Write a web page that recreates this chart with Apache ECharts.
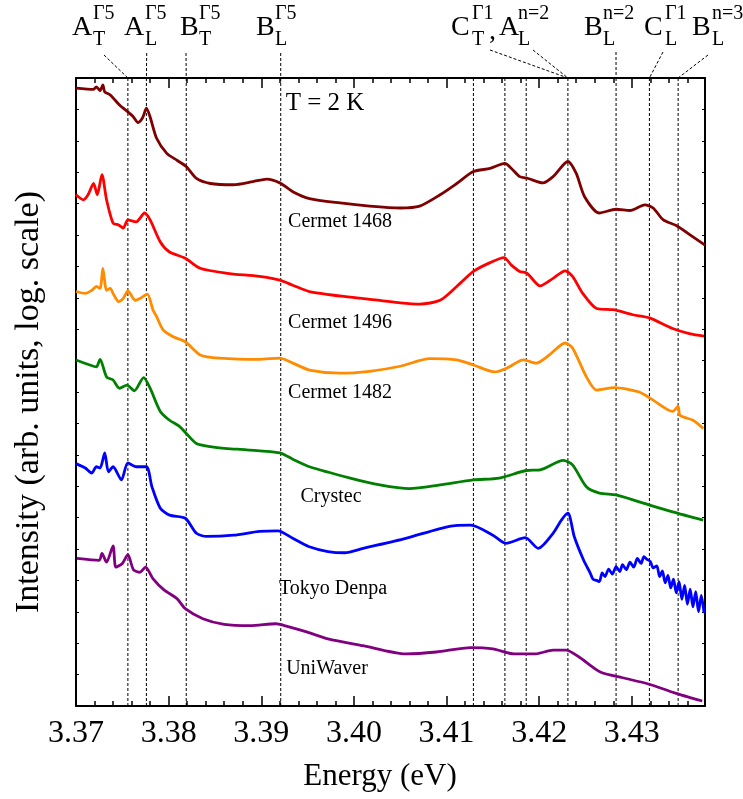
<!DOCTYPE html>
<html>
<head>
<meta charset="utf-8">
<script src="https://cdn.jsdelivr.net/npm/echarts@6/dist/echarts.min.js"></script>
<style>
  html, body { margin: 0; padding: 0; background: #fff; }
  #chart { width: 743px; height: 799px; }
</style>
</head>
<body>
<div id="chart"></div>
<script>
// energies (eV) / intensity (log, offset, arb. units)
var cermet1468 = [
  [3.3700,9.84],[3.3719,9.82],[3.3722,9.86],[3.3726,9.80],[3.3729,9.89],[3.3731,9.78],
  [3.3737,9.73],[3.3747,9.57],[3.3756,9.46],[3.3762,9.38],[3.3767,9.29],[3.3772,9.37],
  [3.3776,9.52],[3.3780,9.38],[3.3787,9.04],[3.3798,8.80],[3.3809,8.69],[3.3819,8.59],
  [3.3830,8.40],[3.3845,8.32],[3.3870,8.30],[3.3891,8.35],[3.3906,8.39],[3.3920,8.33],
  [3.3934,8.19],[3.3952,8.08],[3.3985,8.01],[3.4017,7.96],[3.4050,7.93],[3.4071,7.96],
  [3.4093,8.14],[3.4111,8.32],[3.4129,8.51],[3.4147,8.56],[3.4163,8.64],[3.4170,8.56],
  [3.4179,8.43],[3.4188,8.40],[3.4204,8.33],[3.4215,8.43],[3.4231,8.67],[3.4240,8.48],
  [3.4249,8.11],[3.4265,7.85],[3.4283,7.91],[3.4298,7.89],[3.4314,7.98],[3.4323,7.93],
  [3.4334,7.74],[3.4348,7.65],[3.4366,7.47],[3.4379,7.34]
];
var cermet1496 = [
  [3.3700,8.14],[3.3708,8.06],[3.3713,8.14],[3.3719,8.32],[3.3723,8.14],[3.3728,8.46],
  [3.3733,8.06],[3.3740,7.69],[3.3746,7.66],[3.3751,7.61],[3.3756,7.74],[3.3765,7.71],
  [3.3774,7.85],[3.3780,7.74],[3.3791,7.39],[3.3801,7.23],[3.3818,7.13],[3.3834,6.97],
  [3.3863,6.89],[3.3898,6.84],[3.3920,6.78],[3.3934,6.70],[3.3952,6.60],[3.3996,6.51],
  [3.4028,6.46],[3.4050,6.42],[3.4071,6.40],[3.4093,6.46],[3.4111,6.68],[3.4129,6.92],
  [3.4147,7.06],[3.4162,7.14],[3.4170,7.02],[3.4179,6.92],[3.4187,6.89],[3.4201,6.69],
  [3.4215,6.81],[3.4228,6.93],[3.4236,6.84],[3.4247,6.57],[3.4262,6.33],[3.4280,6.31],
  [3.4301,6.23],[3.4319,6.18],[3.4344,6.01],[3.4362,5.93],[3.4378,5.89]
];
var cermet1482 = [
  [3.3700,6.60],[3.3710,6.57],[3.3717,6.62],[3.3722,6.68],[3.3726,6.65],[3.3729,6.97],
  [3.3733,6.62],[3.3737,6.65],[3.3740,6.57],[3.3746,6.44],[3.3751,6.49],[3.3756,6.61],
  [3.3764,6.46],[3.3769,6.49],[3.3777,6.56],[3.3783,6.31],[3.3787,6.20],[3.3794,5.99],
  [3.3805,5.88],[3.3818,5.80],[3.3834,5.59],[3.3855,5.54],[3.3898,5.52],[3.3920,5.54],
  [3.3934,5.46],[3.3952,5.35],[3.3985,5.30],[3.4017,5.33],[3.4050,5.41],[3.4082,5.53],
  [3.4111,5.51],[3.4129,5.43],[3.4152,5.32],[3.4165,5.38],[3.4183,5.51],[3.4197,5.46],
  [3.4211,5.59],[3.4228,5.78],[3.4236,5.70],[3.4251,5.24],[3.4262,5.03],[3.4281,5.07],
  [3.4308,5.00],[3.4323,4.87],[3.4344,4.69],[3.4350,4.77],[3.4352,4.63],[3.4366,4.55],
  [3.4377,4.42]
];
var crystec = [
  [3.3700,5.51],[3.3715,5.43],[3.3722,5.40],[3.3726,5.52],[3.3733,5.24],[3.3740,5.19],
  [3.3747,5.06],[3.3755,5.11],[3.3763,5.02],[3.3773,5.23],[3.3780,5.06],[3.3791,4.69],
  [3.3801,4.55],[3.3812,4.45],[3.3819,4.34],[3.3830,4.18],[3.3845,4.13],[3.3863,4.10],
  [3.3884,4.08],[3.3920,4.03],[3.3934,3.93],[3.3952,3.81],[3.3996,3.63],[3.4028,3.52],
  [3.4060,3.46],[3.4093,3.52],[3.4129,3.60],[3.4157,3.63],[3.4186,3.75],[3.4201,3.76],
  [3.4226,3.91],[3.4236,3.84],[3.4251,3.49],[3.4265,3.39],[3.4283,3.36],[3.4308,3.25],
  [3.4344,3.09],[3.4377,2.96]
];
var tokyoDenpa = [
  [3.3700,3.86],[3.3710,3.79],[3.3717,3.71],[3.3722,3.81],[3.3726,3.79],[3.3731,4.03],
  [3.3735,3.73],[3.3740,3.81],[3.3749,3.60],[3.3756,3.87],[3.3765,3.81],[3.3776,3.81],
  [3.3782,3.49],[3.3791,3.15],[3.3801,3.04],[3.3818,2.99],[3.3830,2.75],[3.3841,2.70],
  [3.3870,2.72],[3.3898,2.78],[3.3918,2.79],[3.3934,2.67],[3.3951,2.54],[3.3972,2.46],
  [3.3990,2.44],[3.4010,2.51],[3.4056,2.67],[3.4103,2.86],[3.4126,2.88],[3.4150,2.72],
  [3.4164,2.59],[3.4185,2.68],[3.4199,2.51],[3.4215,2.75],[3.4224,2.96],[3.4231,3.07],
  [3.4238,2.69],[3.4248,2.32],[3.4255,2.12],[3.4258,2.02],[3.4262,2.00],[3.4265,1.98],
  [3.4268,2.12],[3.4271,2.06],[3.4275,2.18],[3.4279,2.10],[3.4283,2.22],[3.4287,2.14],
  [3.4290,2.25],[3.4294,2.17],[3.4298,2.29],[3.4302,2.21],[3.4306,2.35],[3.4310,2.27],
  [3.4313,2.38],[3.4316,2.34],[3.4320,2.30],[3.4323,2.20],[3.4327,2.23],[3.4330,2.06],
  [3.4333,2.15],[3.4336,1.96],[3.4339,2.08],[3.4342,1.88],[3.4345,2.02],[3.4348,1.80],
  [3.4351,1.98],[3.4354,1.70],[3.4357,1.92],[3.4360,1.62],[3.4363,1.86],[3.4366,1.58],
  [3.4369,1.82],[3.4372,1.50],[3.4375,1.76],[3.4378,1.48]
];
var uniWaver = [
  [3.3701,2.35],[3.3725,2.32],[3.3728,2.43],[3.3733,2.29],[3.3740,2.55],[3.3743,2.21],
  [3.3750,2.27],[3.3756,2.41],[3.3762,2.17],[3.3769,2.13],[3.3775,2.21],[3.3783,2.03],
  [3.3795,1.85],[3.3809,1.71],[3.3818,1.55],[3.3837,1.39],[3.3860,1.30],[3.3888,1.28],
  [3.3916,1.31],[3.3925,1.28],[3.3949,1.18],[3.3972,1.07],[3.4010,0.96],[3.4056,0.83],
  [3.4089,0.86],[3.4126,0.93],[3.4150,0.91],[3.4173,0.83],[3.4196,0.83],[3.4215,0.89],
  [3.4229,0.89],[3.4243,0.78],[3.4266,0.54],[3.4290,0.45],[3.4318,0.35],[3.4346,0.21],
  [3.4376,0.08]
];

var sampleNames = ['Cermet 1468', 'Cermet 1496', 'Cermet 1482', 'Crystec', 'Tokyo Denpa', 'UniWaver'];
var sampleColors = ['#7f0000', '#ff0000', '#ff8c00', '#008000', '#0000ff', '#800080'];
var sampleData = [cermet1468, cermet1496, cermet1482, crystec, tokyoDenpa, uniWaver];

// transition energies (dashed lines)
var lineEnergies = [3.3756, 3.3776, 3.3819, 3.3921, 3.4129, 3.4163, 3.4186, 3.4231, 3.4283, 3.4319, 3.4350];

var xMin = 3.37, xMax = 3.4379;
var FONT = 'Liberation Serif';

var chart = echarts.init(document.getElementById('chart'));

function xAx(pos, interval, len, labels, line) {
  return {
    type: 'value', position: pos, min: xMin, max: xMax, interval: interval,
    axisLine: { show: line, onZero: false, lineStyle: { color: '#000', width: 2 } },
    axisTick: { show: true, inside: true, length: len, lineStyle: { color: '#000', width: 1.5 } },
    axisLabel: {
      show: labels, margin: 12, color: '#000', fontFamily: FONT, fontSize: 32,
      formatter: function (v) {
        return Math.abs(v * 100 - Math.round(v * 100)) < 1e-6 ? v.toFixed(2) : '';
      }
    },
    splitLine: { show: false }
  };
}
function yAx(pos) {
  return {
    type: 'value', position: pos, min: 0, max: 10, interval: 0.5,
    axisLine: { show: true, lineStyle: { color: '#000', width: 2 } },
    axisTick: { show: true, inside: true, length: 3, lineStyle: { color: '#000', width: 1 } },
    axisLabel: { show: false },
    splitLine: { show: false }
  };
}

var series = [];
// dashed transition lines, drawn through the axes
lineEnergies.forEach(function (e) {
  series.push({
    type: 'line', data: [[e, 0], [e, 10]], xAxisIndex: 0, yAxisIndex: 0, z: 1,
    showSymbol: false, silent: true,
    lineStyle: { color: '#000', width: 1, type: [3, 2] }
  });
});
sampleData.forEach(function (d, i) {
  series.push({
    name: sampleNames[i], type: 'line', data: d, xAxisIndex: 0, yAxisIndex: 0,
    showSymbol: false, smooth: 0.25, z: 3,
    lineStyle: { color: sampleColors[i], width: 2.8 }
  });
});

chart.setOption({
  animation: false,
  grid: { left: 76, right: 38, top: 78, bottom: 93 },
  xAxis: [
    xAx('bottom', 0.01, 10, true, true),
    xAx('bottom', 0.002, 5, false, false),
    xAx('top', 0.01, 10, false, true),
    xAx('top', 0.002, 5, false, false)
  ],
  yAxis: [yAx('left'), yAx('right')],
  series: series
});

// annotation texts
var g = [];
function txt(x, y, s, size, align) {
  g.push({ type: 'text', x: x, y: y, style: { text: s, fontFamily: FONT, fontSize: size, fill: '#000', align: align || 'left', verticalAlign: 'middle' } });
}
function lbl(x, main, sup, sub, supX) {
  txt(x, 28, main, 28);
  txt(supX, 14, sup, 20);
  txt(supX, 40, sub, 20);
}
lbl(72, 'A', 'Γ5', 'T', 93);
lbl(124, 'A', 'Γ5', 'L', 145);
lbl(180, 'B', 'Γ5', 'T', 199);
lbl(256, 'B', 'Γ5', 'L', 275);
lbl(451, 'C', 'Γ1', 'T', 472);
txt(489, 32, ',', 28);
lbl(499, 'A', 'n=2', 'L', 518);
lbl(584, 'B', 'n=2', 'L', 603);
lbl(644, 'C', 'Γ1', 'L', 665);
lbl(692, 'B', 'n=3', 'L', 712);

txt(325, 103, 'T = 2 K', 25, 'center');
var labelPos = [[340, 222], [340, 323], [340, 393], [331, 497], [333, 589], [327, 669]];
sampleNames.forEach(function (n, i) { txt(labelPos[i][0], labelPos[i][1], n, 20, 'center'); });

txt(380, 777, 'Energy (eV)', 31, 'center');
g.push({ type: 'text', x: 29, y: 402, rotation: Math.PI / 2,
  style: { text: 'Intensity (arb. units, log. scale)', fontFamily: FONT, fontSize: 34, fill: '#000', align: 'center', verticalAlign: 'middle' } });

// leader lines from labels to the dashed lines
function px(e) { return chart.convertToPixel({ xAxisIndex: 0 }, e); }
var leaders = [
  [104, 55, 0], [146.7, 53, 1], [186, 53, 2], [280.7, 53, 3],
  [490, 50, 7], [533, 50, 7], [616, 52, 8], [663, 52, 9], [708, 55, 10]
];
leaders.forEach(function (l) {
  g.push({ type: 'line', shape: { x1: l[0], y1: l[1], x2: px(lineEnergies[l[2]]), y2: 78 },
    style: { stroke: '#000', lineWidth: 1, lineDash: [3, 2] } });
});

chart.setOption({ graphic: g });
</script>
</body>
</html>
